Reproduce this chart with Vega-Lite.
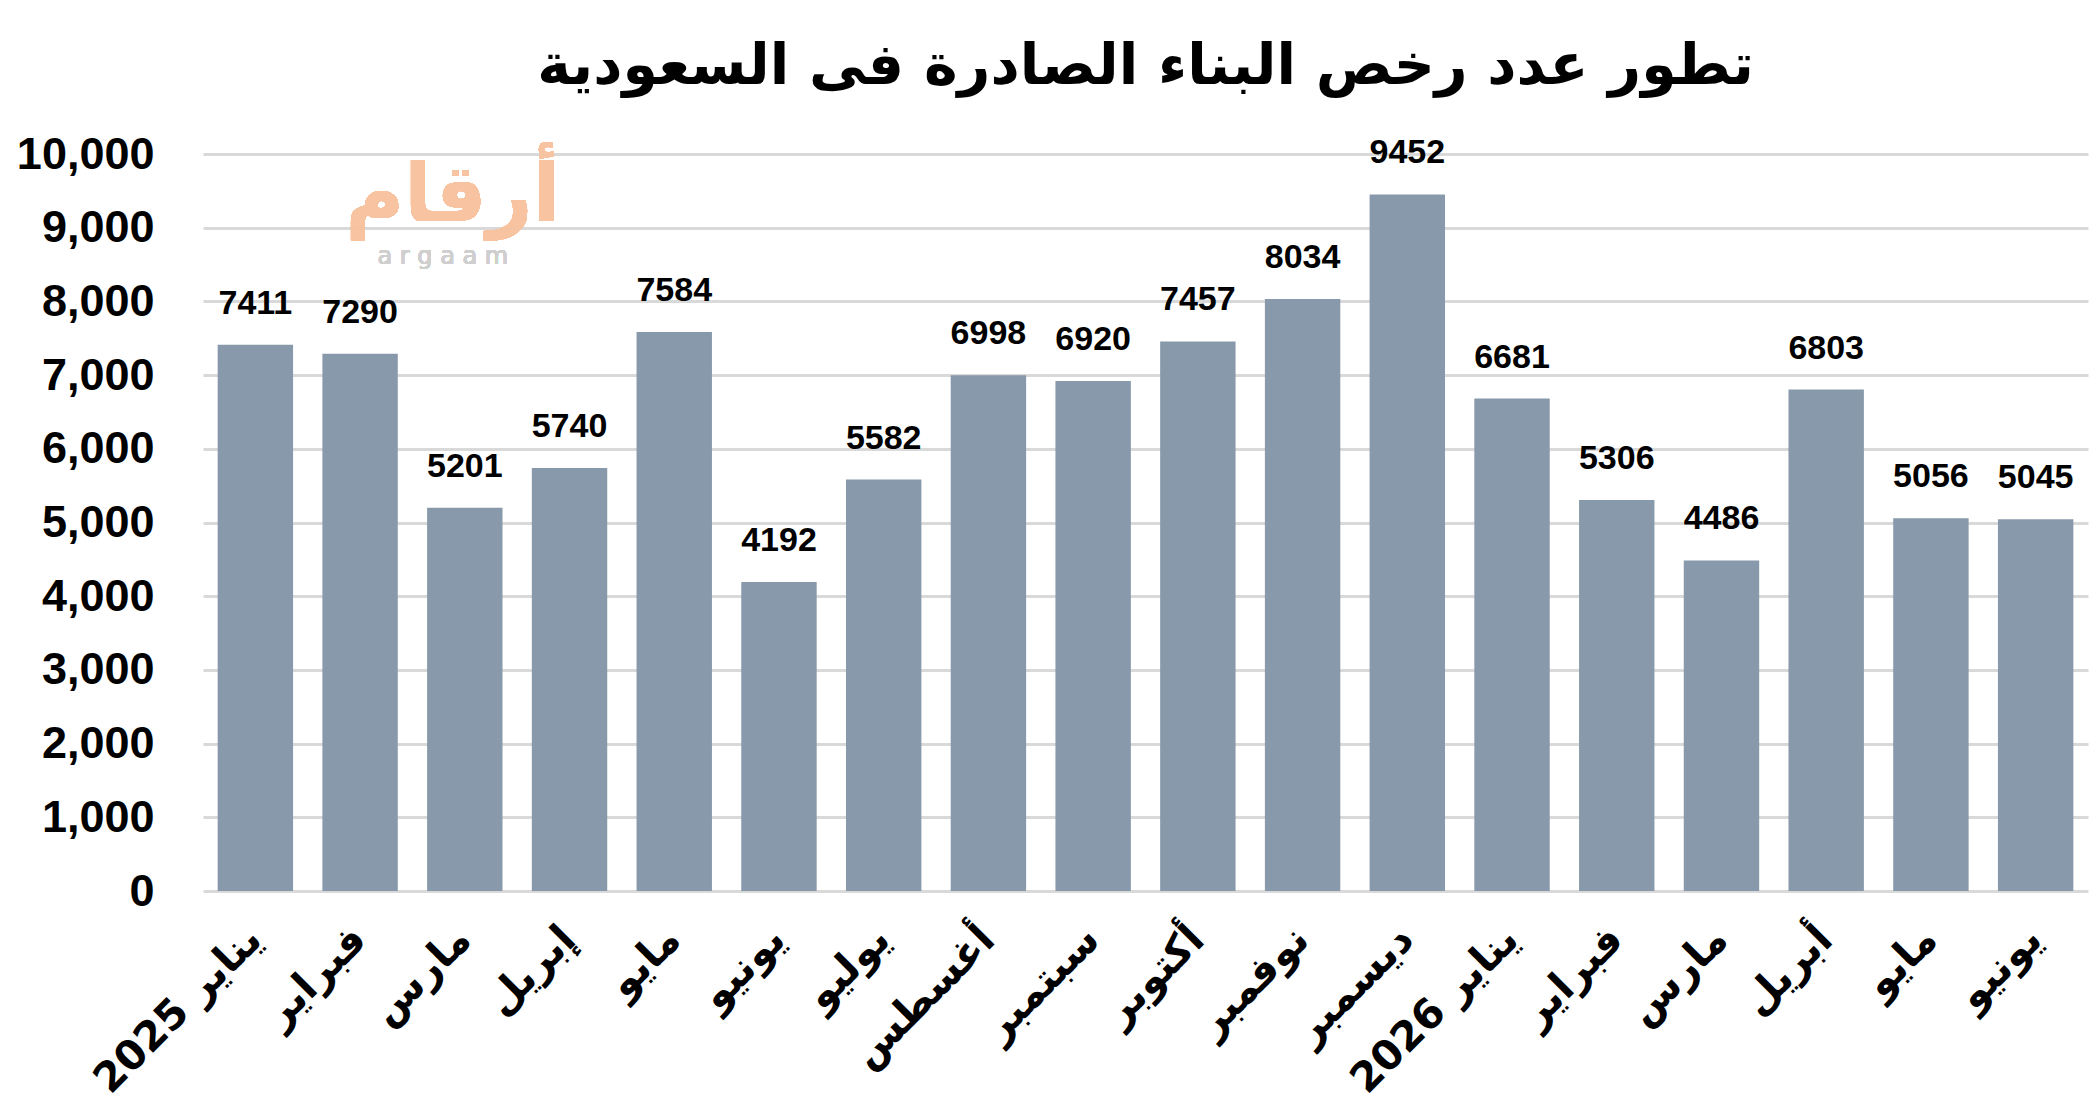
{
  "$schema": "https://vega.github.io/schema/vega-lite/v6.json",
  "width": 1885,
  "height": 737,
  "autosize": {"type": "none"},
  "padding": {"left": 203, "top": 154, "right": 11, "bottom": 222},
  "background": "white",
  "title": {
    "text": "تطور عدد رخص البناء الصادرة فى السعودية",
    "font": "DejaVu Sans",
    "fontSize": 57,
    "fontWeight": "bold",
    "color": "black",
    "anchor": "middle",
    "offset": 36
  },
  "config": {"view": {"stroke": null}},
  "data": {
    "values": [
      {"month": "يناير 2025", "value": 7411},
      {"month": "فبراير", "value": 7290},
      {"month": "مارس", "value": 5201},
      {"month": "إبريل", "value": 5740},
      {"month": "مايو", "value": 7584},
      {"month": "يونيو", "value": 4192},
      {"month": "يوليو", "value": 5582},
      {"month": "أغسطس", "value": 6998},
      {"month": "سبتمبر", "value": 6920},
      {"month": "أكتوبر", "value": 7457},
      {"month": "نوفمبر", "value": 8034},
      {"month": "ديسمبر", "value": 9452},
      {"month": "يناير 2026", "value": 6681},
      {"month": "فبراير​", "value": 5306},
      {"month": "مارس​", "value": 4486},
      {"month": "أبريل", "value": 6803},
      {"month": "مايو​", "value": 5056},
      {"month": "يونيو​", "value": 5045}
    ]
  },
  "encoding": {
    "x": {
      "field": "month",
      "type": "nominal",
      "sort": null,
      "scale": {
        "domain": ["يناير 2025", "فبراير", "مارس", "إبريل", "مايو", "يونيو", "يوليو", "أغسطس", "سبتمبر", "أكتوبر", "نوفمبر", "ديسمبر", "يناير 2026", "فبراير​", "مارس​", "أبريل", "مايو​", "يونيو​"],
        "paddingInner": 0.28,
        "paddingOuter": 0.14
      },
      "axis": {
        "title": null,
        "domain": false,
        "ticks": false,
        "labelAngle": -45,
        "labelAlign": "right",
        "labelBaseline": "middle",
        "labelPadding": 42,
        "labelFont": "DejaVu Sans",
        "labelFontWeight": "bold",
        "labelFontSize": 41,
        "labelColor": "black",
        "labelOverlap": false,
        "labelLimit": 600
      }
    },
    "y": {
      "field": "value",
      "type": "quantitative",
      "scale": {"domain": [0, 10000], "nice": false},
      "axis": {
        "title": null,
        "domain": false,
        "ticks": false,
        "values": [0, 1000, 2000, 3000, 4000, 5000, 6000, 7000, 8000, 9000, 10000],
        "format": ",d",
        "labelFont": "Liberation Sans",
        "labelFontWeight": "bold",
        "labelFontSize": 45,
        "labelColor": "black",
        "labelPadding": 49,
        "gridColor": "#d9d9d9",
        "gridWidth": 3
      }
    }
  },
  "layer": [
    {
      "mark": {"type": "text", "font": "DejaVu Sans", "fontWeight": "bold", "fontSize": 80, "color": "#f7c3a0", "opacity": 0.85, "xOffset": -12, "baseline": "middle"},
      "encoding": {
        "x": {"datum": "مارس"},
        "y": {"datum": 9420},
        "text": {"value": "أرقام"}
      }
    },
    {
      "mark": {"type": "text", "font": "DejaVu Sans", "fontSize": 24, "color": "#cfcfcf", "xOffset": -22, "baseline": "middle"},
      "encoding": {
        "x": {"datum": "مارس"},
        "y": {"datum": 8600},
        "text": {"value": "a r g a a m"}
      }
    },
    {
      "mark": {"type": "bar", "color": "#8799aa"}
    },
    {
      "mark": {"type": "text", "font": "Liberation Sans", "fontWeight": "bold", "fontSize": 34, "color": "black", "baseline": "alphabetic", "dy": -31},
      "encoding": {"text": {"field": "value", "type": "quantitative", "format": "d"}}
    }
  ]
}
